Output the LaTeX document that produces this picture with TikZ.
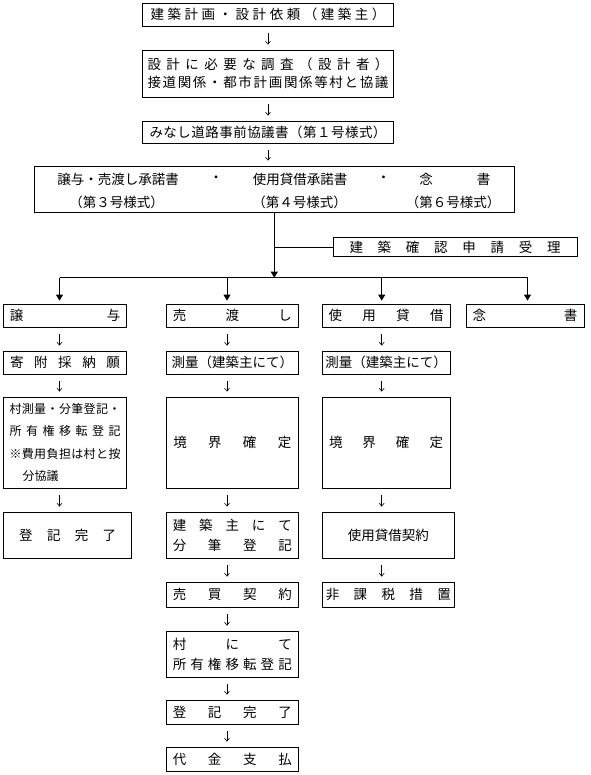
\documentclass[tikz,border=0pt]{standalone}
\usepackage{fontspec}
\setmainfont{Noto Sans CJK JP}
\usetikzlibrary{arrows.meta}

% spread the characters of one line over the whole text width
\makeatletter
\newcommand\spread[1]{\leavevmode\hbox to\linewidth{\spread@first#1\relax}}
\def\spread@first#1{#1\spread@next}
\def\spread@next#1{\ifx\relax#1\else\hfil#1\expandafter\spread@next\fi}
\makeatother

\tikzset{
  box/.style={draw, line width=.8pt, inner sep=0pt, font=\fontsize{13.5}{18.5}\selectfont},
  txt/.style={inner sep=0pt, font=\fontsize{13.5}{18.5}\selectfont},
  flow/.style={-{Straight Barb[length=3pt,width=5pt]}, line width=.6pt, shorten <=7pt, shorten >=5pt},
  branch/.style={-{Triangle[length=6pt,width=7pt]}, line width=.8pt},
}

\begin{document}
\begin{tikzpicture}[x=1pt,y=-1pt]
\useasboundingbox (0,0) rectangle (590,775);

% upper chain
\node[box, minimum width=251.5pt, minimum height=23pt, text width=235pt] (plan) at (268,14.5) {\spread{建築計画・設計依頼（建築主）}};
\node[box, minimum width=251.5pt, minimum height=47pt, text width=241pt] (survey) at (268,73.5) {\spread{設計に必要な調査（設計者）}\\\spread{接道関係・都市計画関係等村と協議}};
\node[box, minimum width=251.5pt, minimum height=22pt, text width=237pt] (preform) at (268,132) {\spread{みなし道路事前協議書（第１号様式）}};
\node[box, minimum width=479.4pt, minimum height=46pt] (consent) at (274.3,189) {};
\node[txt] (consent a) at (118,179) {譲与・売渡し承諾書};
\node[txt] (dot a) at (216,179) {・};
\node[txt] (consent b) at (300,179) {使用貸借承諾書};
\node[txt] (dot b) at (383.5,179) {・};
\node[txt] (memo a) at (426,179) {念};
\node[txt] (memo b) at (483.7,179) {書};
\node[txt] (form a) at (116.5,202.5) {（第３号様式）};
\node[txt] (form b) at (299.6,202.5) {（第４号様式）};
\node[txt] (form c) at (453,202.5) {（第６号様式）};
\node[box, minimum width=244pt, minimum height=19.5pt, text width=211pt] (confirm) at (455,247) {\spread{建築確認申請受理}};

% column 1
\node[box, minimum width=122.5pt, minimum height=23pt, text width=110.5pt] (gift) at (65,315.5) {\spread{譲与}};
\node[box, minimum width=122.5pt, minimum height=23pt, text width=110pt] (donate) at (65,362.5) {\spread{寄附採納願}};
\node[box, minimum width=122.5pt, minimum height=91pt, text width=111pt, font=\fontsize{12}{22.2}\selectfont] (villreg) at (65,442.5) {\spread{村測量・分筆登記・}\\\spread{所有権移転登記}\\\spread{※費用負担は村と按}\\\hspace*{13pt}分協議};
\node[box, minimum width=127.8pt, minimum height=46pt, text width=97pt] (done1) at (67.7,535) {\spread{登記完了}};

% column 2
\node[box, minimum width=131.5pt, minimum height=23pt, text width=119pt] (sale) at (232.3,315.5) {\spread{売渡し}};
\node[box, minimum width=131.5pt, minimum height=23pt] (survey1) at (232.3,362.5) {測量（建築主にて）};
\node[box, minimum width=131.5pt, minimum height=91pt, text width=118pt] (border1) at (232.3,442.5) {\spread{境界確定}};
\node[box, minimum width=131.5pt, minimum height=46pt, text width=119pt, font=\fontsize{13.5}{20}\selectfont] (split) at (232.3,535) {\spread{建築主にて}\\\spread{分筆登記}};
\node[box, minimum width=131.5pt, minimum height=25pt, text width=119pt] (buy) at (232.3,594.5) {\spread{売買契約}};
\node[box, minimum width=131.5pt, minimum height=46pt, text width=119pt, font=\fontsize{13.5}{20}\selectfont] (villtrans) at (232.3,654) {\spread{村にて}\\\spread{所有権移転登記}};
\node[box, minimum width=131.5pt, minimum height=24pt, text width=119pt] (done2) at (232.3,712) {\spread{登記完了}};
\node[box, minimum width=131.5pt, minimum height=24pt, text width=119pt] (pay) at (232.3,759) {\spread{代金支払}};

% column 3
\node[box, minimum width=128pt, minimum height=23pt, text width=115pt] (lease) at (386,315.5) {\spread{使用貸借}};
\node[box, minimum width=128pt, minimum height=23pt] (survey2) at (386,362.5) {測量（建築主にて）};
\node[box, minimum width=128pt, minimum height=91pt, text width=114pt] (border2) at (386,442.5) {\spread{境界確定}};
\node[box, minimum width=132.5pt, minimum height=46pt] (contract) at (388.3,535) {使用貸借契約};
\node[box, minimum width=132.5pt, minimum height=25pt, text width=125pt] (notax) at (388.3,594.5) {\spread{非課税措置}};

% column 4
\node[box, minimum width=118pt, minimum height=23pt, text width=104.6pt] (memo) at (525,315.5) {\spread{念書}};

% connectors
\draw[flow] (plan) -- (survey);
\draw[flow] (survey) -- (preform);
\draw[flow] (preform.south) -- (preform.south |- consent.north);

\coordinate (c1) at (59.5,277.7);
\coordinate (c2) at (227,277.7);
\coordinate (c3) at (381.7,277.7);
\coordinate (c4) at (527.5,277.7);
\coordinate (j) at (consent.south |- confirm.west);

\draw[branch] (consent.south) -- (consent.south |- c1);
\draw[line width=.8pt] (j) -- (confirm.west);
\draw[line width=.8pt] (c1) -- (c4);
\foreach \c/\n in {c1/gift, c2/sale, c3/lease, c4/memo}
	\draw[branch, shorten >=3pt] (\c) -- (\c |- \n.north);

\foreach \a/\b/\c in {gift/donate/c1, donate/villreg/c1, villreg/done1/c1,
		sale/survey1/c2, survey1/border1/c2, border1/split/c2, split/buy/c2,
		buy/villtrans/c2, villtrans/done2/c2, done2/pay/c2,
		lease/survey2/c3, survey2/border2/c3, border2/contract/c3, contract/notax/c3}
	\draw[flow] (\a.south -| \c) -- (\b.north -| \c);
\end{tikzpicture}
\end{document}
